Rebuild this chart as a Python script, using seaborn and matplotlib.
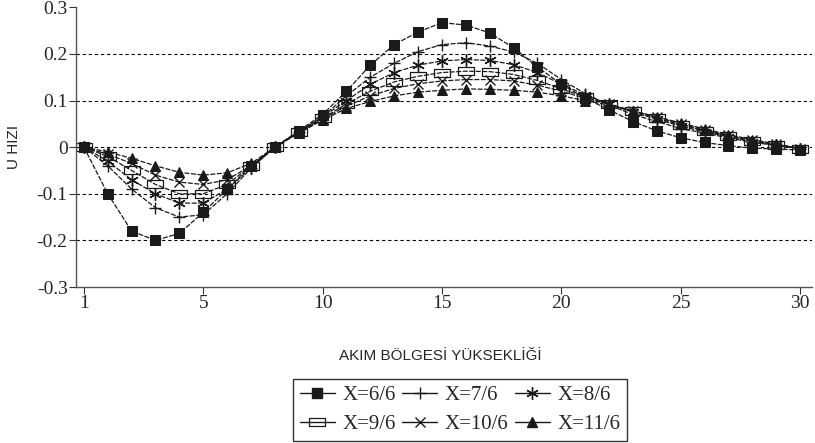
import numpy as np
import pandas as pd
import matplotlib
matplotlib.use("Agg")
import matplotlib.pyplot as plt
from matplotlib.path import Path
from matplotlib.lines import Line2D
import seaborn as sns

# ---------------- data ----------------
x_pos = list(range(31))
tick_pos = [0, 5, 10, 15, 20, 25, 30]
tick_labels = ["1", "5", "10", "15", "20", "25", "30"]
y_ticks = [-0.3, -0.2, -0.1, 0, 0.1, 0.2, 0.3]
y_tick_labels = ["-0.3", "-0.2", "-0.1", "0", "0.1", "0.2", "0.3"]
grid_levels = [-0.2, -0.1, 0.0, 0.1, 0.2]

s66 = [0.0, -0.10, -0.18, -0.20, -0.185, -0.14, -0.09, -0.04, 0.0, 0.035, 0.07,
       0.12, 0.176, 0.22, 0.247, 0.267, 0.262, 0.245, 0.213, 0.172, 0.135,
       0.105, 0.08, 0.055, 0.035, 0.02, 0.01, 0.003, -0.002, -0.004, -0.006]
s76 = [0.0, -0.04, -0.09, -0.13, -0.15, -0.145, -0.10, -0.045, 0.0, 0.033, 0.065,
       0.11, 0.15, 0.18, 0.205, 0.22, 0.224, 0.217, 0.204, 0.18, 0.145,
       0.115, 0.09, 0.07, 0.055, 0.04, 0.03, 0.02, 0.01, 0.004, -0.003]
s86 = [0.0, -0.03, -0.07, -0.10, -0.12, -0.12, -0.09, -0.045, 0.0, 0.033, 0.065,
       0.10, 0.135, 0.16, 0.176, 0.185, 0.188, 0.186, 0.177, 0.16, 0.135,
       0.112, 0.092, 0.075, 0.06, 0.045, 0.033, 0.022, 0.012, 0.004, -0.003]
s96 = [0.0, -0.02, -0.05, -0.08, -0.10, -0.10, -0.08, -0.04, 0.0, 0.032, 0.062,
       0.093, 0.12, 0.14, 0.152, 0.16, 0.163, 0.162, 0.156, 0.143, 0.125,
       0.108, 0.092, 0.077, 0.062, 0.048, 0.035, 0.024, 0.014, 0.005, -0.003]
s106 = [0.0, -0.015, -0.035, -0.06, -0.075, -0.08, -0.07, -0.04, 0.0, 0.031, 0.06,
        0.088, 0.11, 0.126, 0.136, 0.142, 0.145, 0.145, 0.142, 0.133, 0.12,
        0.105, 0.092, 0.078, 0.064, 0.05, 0.037, 0.025, 0.015, 0.006, -0.003]
s116 = [0.0, -0.01, -0.024, -0.04, -0.054, -0.06, -0.055, -0.035, 0.0, 0.03, 0.058,
        0.083, 0.098, 0.11, 0.118, 0.122, 0.125, 0.124, 0.122, 0.118, 0.11,
        0.1, 0.09, 0.078, 0.065, 0.052, 0.039, 0.027, 0.016, 0.007, -0.003]

series_names = ["X=6/6", "X=7/6", "X=8/6", "X=9/6", "X=10/6", "X=11/6"]
series_values = [s66, s76, s86, s96, s106, s116]

x_label = "AKIM BÖLGESİ YÜKSEKLİĞİ"
y_label = "U HIZI"

# ---------------- style ----------------
ink = "#1a1a1a"
rect = Path([(-1.7, -0.8), (1.7, -0.8), (1.7, 0.8), (-1.7, 0.8), (-1.7, -0.8)],
            [Path.MOVETO, Path.LINETO, Path.LINETO, Path.LINETO, Path.CLOSEPOLY])
styles = [
    dict(marker="s", markersize=6.5, markerfacecolor=ink, markeredgecolor=ink),
    dict(marker="+", markersize=9, markeredgewidth=1.0, markeredgecolor=ink),
    dict(marker=(6, 2, 0), markersize=9, markeredgewidth=1.0, markeredgecolor=ink),
    dict(marker=rect, markersize=12, markerfacecolor="none", markeredgecolor=ink,
         markeredgewidth=0.9),
    dict(marker="x", markersize=7.5, markeredgewidth=1.0, markeredgecolor=ink),
    dict(marker="^", markersize=6.5, markerfacecolor=ink, markeredgecolor=ink),
]

sns.set_style("white")
serif = ["Liberation Serif", "DejaVu Serif"]
sans = ["Liberation Sans", "DejaVu Sans"]

fig = plt.figure(figsize=(8.15, 4.43), dpi=100)
ax = fig.add_axes([76 / 815, 1 - 287 / 443, (812 - 76) / 815, (287 - 7.3) / 443])

for lvl in grid_levels:
    ax.axhline(lvl, color="black", lw=0.8, ls=(0, (3, 2.5)), zorder=0)

for name, vals, st in zip(series_names, series_values, styles):
    df = pd.DataFrame({"x": x_pos, "y": vals})
    sns.lineplot(data=df, x="x", y="y", ax=ax, color=ink, lw=0.9,
                 linestyle=(0, (4, 1.2)), legend=False, **st)

ax.set_xlim(-0.33, 30.5)
ax.set_ylim(-0.3, 0.3)
ax.set_xticks(tick_pos)
ax.set_xticklabels(tick_labels, fontfamily=serif, fontsize=14)
ax.set_yticks(y_ticks)
ax.set_yticklabels(y_tick_labels, fontfamily=serif, fontsize=14)
ax.set_xlabel("")
ax.set_ylabel("")
ax.tick_params(axis="both", direction="out", length=5, width=0.8, color="#333333",
               pad=1, bottom=True, left=True)
for side in ["top", "right"]:
    ax.spines[side].set_visible(False)
for side in ["left", "bottom"]:
    ax.spines[side].set_color("#555555")
    ax.spines[side].set_linewidth(1.0)

fig.text(440 / 815, 1 - 356 / 443, x_label, ha="center", va="center",
         fontsize=11, family=sans)
fig.text(14 / 815, 1 - 147 / 443, y_label, ha="center", va="center",
         rotation=90, fontsize=11, family=sans)

# legend proxies: solid short line with a single marker
handles = [Line2D([], [], color=ink, lw=1.0, **st) for st in styles]
order = [0, 3, 1, 4, 2, 5]
leg = fig.legend([handles[i] for i in order], [series_names[i] for i in order],
                 loc="center", bbox_to_anchor=(460 / 815, 1 - 410 / 443), ncol=3,
                 prop={"family": serif, "size": 15}, frameon=True, fancybox=False,
                 edgecolor="black", handlelength=1.7, handletextpad=0.35,
                 columnspacing=0.3, borderpad=0.3, labelspacing=0.45,
                 borderaxespad=0)
leg.get_frame().set_linewidth(1.0)

fig.savefig("out.png", dpi=100)
